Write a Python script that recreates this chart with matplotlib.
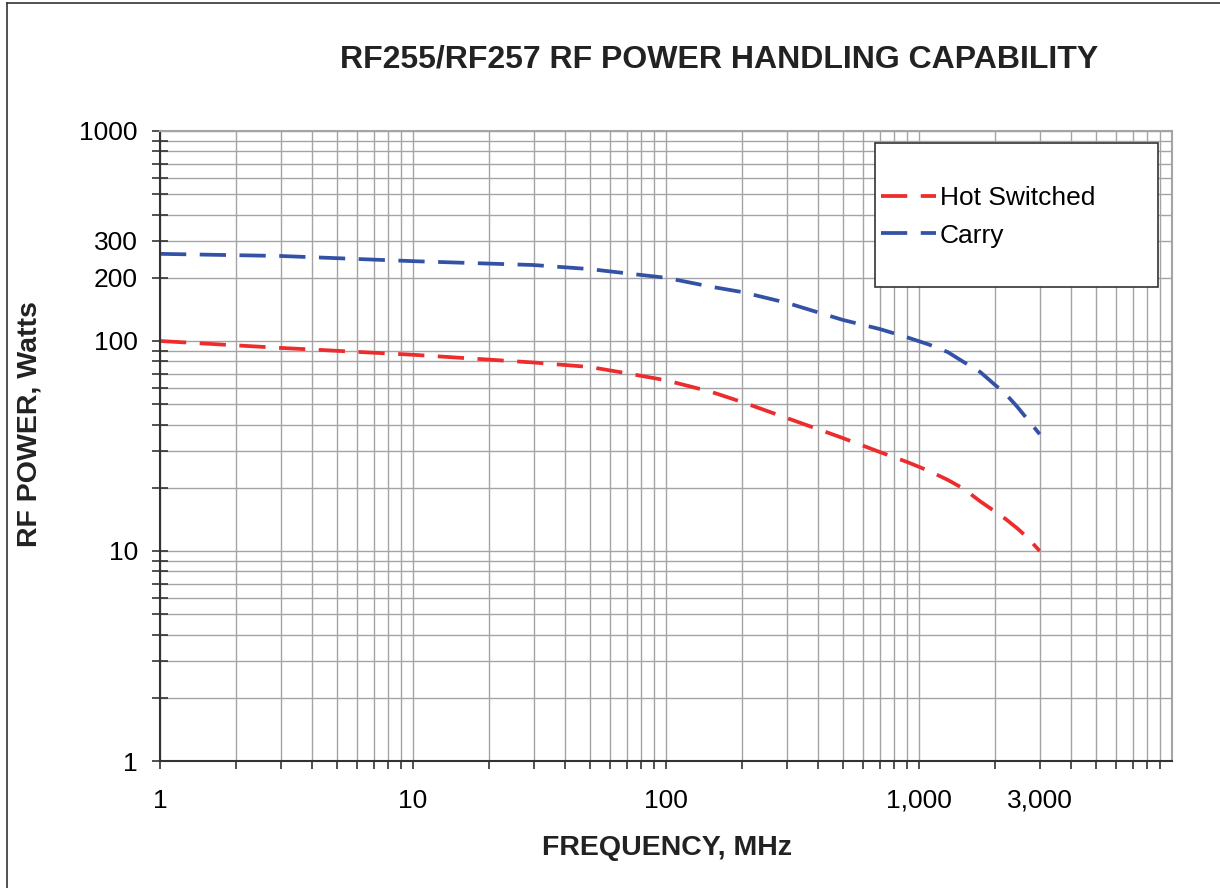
#!/usr/bin/python3

import matplotlib
matplotlib.use('Agg')
import matplotlib.pyplot as plt
from matplotlib.patches import Rectangle
from matplotlib.lines import Line2D
from matplotlib.ticker import LogLocator, FixedLocator, FixedFormatter, NullFormatter

# values
freq_mhz = [1, 3, 10, 30, 50, 70, 100, 150, 200, 300, 500, 700, 900, 1100,
            1300, 1500, 1750, 2000, 2200, 2450, 2700, 3000]
hot_switched = [100, 92.7, 86, 79, 75.2, 70.2, 65, 57.4, 51.2, 43, 34.5, 29.6, 26.5, 24,
                21.8, 19.8, 17.2, 15.4, 14.2, 12.8, 11.5, 10]
carry = [260, 254, 240, 230, 220, 210, 200, 181.5, 171, 152, 126, 114, 104, 96,
         88.5, 79.5, 71, 61.7, 56, 48.5, 42, 36]

x_ticks = [1, 10, 100, 1000, 3000]
x_labels = ['1', '10', '100', '1,000', '3,000']
y_ticks = [1, 10, 100, 200, 300, 1000]
y_labels = ['1', '10', '100', '200', '300', '1000']

def main():
  plt.rcParams['font.family'] = ['Liberation Sans', 'DejaVu Sans']

  fig = plt.figure(figsize=(12.2, 8.88), dpi=100)
  ax = fig.add_axes([160/1220, 127/888, 1012/1220, 630/888])

  ax.plot(freq_mhz, hot_switched, color='#ED2D2D', lw=2.7, dashes=(7, 3.6),
          label='Hot Switched')
  ax.plot(freq_mhz, carry, color='#3352A6', lw=2.7, dashes=(7, 3.6),
          label='Carry')

  ax.set_xscale('log')
  ax.set_yscale('log')
  ax.set_xlim(1, 10000)
  ax.set_ylim(1, 1000)

  # grid at every major and minor decade step
  ax.xaxis.set_minor_locator(LogLocator(base=10, subs=range(2, 10), numticks=20))
  ax.yaxis.set_minor_locator(LogLocator(base=10, subs=range(2, 10), numticks=20))
  ax.xaxis.set_minor_formatter(NullFormatter())
  ax.yaxis.set_minor_formatter(NullFormatter())
  ax.xaxis.set_major_locator(FixedLocator(x_ticks))
  ax.xaxis.set_major_formatter(FixedFormatter(x_labels))
  ax.yaxis.set_major_locator(FixedLocator(y_ticks))
  ax.yaxis.set_major_formatter(FixedFormatter(y_labels))
  ax.grid(True, which='both', color='#a4a4a4', lw=1.0)
  ax.set_axisbelow(True)

  ax.tick_params(axis='x', which='both', direction='out', length=6, width=1.2,
                 color='#333333', labelsize=19, pad=14)
  ax.tick_params(axis='y', which='both', direction='inout', length=11, width=1.2,
                 color='#333333', labelsize=19, pad=10.4)

  for s in ['left', 'bottom']:
    ax.spines[s].set_color('#333333')
    ax.spines[s].set_linewidth(1.5)
  for s in ['top', 'right']:
    ax.spines[s].set_color('#a4a4a4')
    ax.spines[s].set_linewidth(1.5)

  # legend box drawn on its own, the legend itself has no frame
  ax.add_patch(Rectangle((0.7068, 0.7519), 0.2793, 0.2295, transform=ax.transAxes,
                         facecolor='white', edgecolor='#333333', lw=1.2, zorder=4))
  ax.legend(loc='center left', bbox_to_anchor=(0.7125, 0.8635), fontsize=19,
            frameon=False, handlelength=2.08, handletextpad=0.15,
            borderpad=0, labelspacing=0.5, borderaxespad=0)

  fig.text(719/1220, 1 - 60/888, 'RF255/RF257 RF POWER HANDLING CAPABILITY',
           ha='center', va='center', fontsize=23, fontweight='bold', color='#222222')
  fig.text(667/1220, 1 - 848/888, 'FREQUENCY, MHz', ha='center', va='center',
           fontsize=20.5, fontweight='bold', color='#222222')
  fig.text(30/1220, 1 - 424/888, 'RF POWER, Watts', ha='center', va='center',
           rotation=90, fontsize=20.5, fontweight='bold', color='#222222')

  # outer frame, only left and top edges show in the source
  fig.lines.append(Line2D([7/1220, 7/1220], [0, 1 - 3/888], transform=fig.transFigure,
                          color='#333333', lw=1.2))
  fig.lines.append(Line2D([7/1220, 1], [1 - 3/888, 1 - 3/888], transform=fig.transFigure,
                          color='#333333', lw=1.2))

  fig.savefig('out.png', dpi=100)

if __name__ == '__main__':
  main()
